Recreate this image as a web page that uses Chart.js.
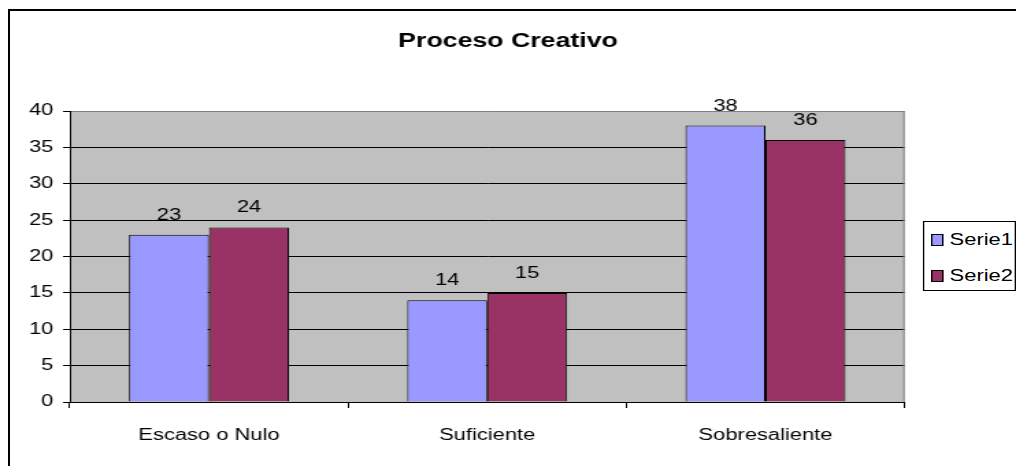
<!DOCTYPE html>
<html>
<head>
<meta charset="utf-8">
<script src="https://cdn.jsdelivr.net/npm/chart.js@4.4.1/dist/chart.umd.min.js"></script>
<style>
    html, body { margin: 0; padding: 0; background: #fff; overflow: hidden; }
    #frame {
        position: absolute; left: 8px; top: 9px;
        width: 1100px; height: 600px;
        border-left: 2px solid #000; border-top: 2px solid #000;
    }
    /* the reference is stretched horizontally, so the whole chart is drawn narrow and scaled */
    #wrap {
        position: absolute; left: 0; top: 0;
        width: 742px; height: 466px;
        transform: scaleX(1.3693); transform-origin: 0 0;
    }
    #legend {
        position: absolute; left: 673.7px; top: 221px;
        width: 66px; height: 68px;
        border: 1px solid #000; background: #fff;
        font-family: "Liberation Sans", Arial, sans-serif; font-size: 16px; color: #000;
    }
    .item { position: absolute; left: 5.8px; height: 18px; line-height: 18px; white-space: nowrap; }
    .box {
        position: absolute; left: 0; top: 3px;
        width: 6.8px; height: 10px; border: 1px solid #000;
    }
    .lbl { position: absolute; left: 13px; top: 0; }
</style>
</head>
<body>
<div id="frame"></div>
<div id="wrap">
    <canvas id="chart" width="742" height="466"></canvas>
    <div id="legend"></div>
</div>
<script>
// Datos del gráfico
const categorias = ['Escaso o Nulo', 'Suficiente', 'Sobresaliente'];
const serie1 = [23, 14, 38];
const serie2 = [24, 15, 36];
const nombresSeries = ['Serie1', 'Serie2'];
const coloresSeries = ['#9999FF', '#993366'];
const titulo = 'Proceso Creativo';

const fuente = '"Liberation Sans", Arial, sans-serif';

// Leyenda en HTML
const legend = document.getElementById('legend');
nombresSeries.forEach((nombre, i) => {
    const item = document.createElement('div');
    item.className = 'item';
    item.style.top = (9 + i * 35.5) + 'px';
    item.innerHTML = '<span class="box" style="background:' + coloresSeries[i] + '"></span>' +
                     '<span class="lbl">' + nombre + '</span>';
    legend.appendChild(item);
});

// Fondo gris del área de trazado
const fondoPlugin = {
    id: 'fondo',
    beforeDraw(chart) {
        const { ctx, chartArea: a } = chart;
        ctx.save();
        ctx.fillStyle = '#C0C0C0';
        ctx.fillRect(a.left, a.top, a.right - a.left, a.bottom - a.top);
        ctx.restore();
    },
    afterDatasetsDraw(chart) {
        const { ctx, chartArea: a } = chart;
        ctx.save();
        ctx.strokeStyle = '#808080';
        ctx.lineWidth = 1;
        ctx.beginPath();
        ctx.moveTo(a.right - 0.5, a.top);
        ctx.lineTo(a.right - 0.5, a.bottom);
        ctx.stroke();
        ctx.restore();
    }
};

// Etiquetas de valores encima de las barras
const etiquetasPlugin = {
    id: 'etiquetas',
    afterDatasetsDraw(chart) {
        const ctx = chart.ctx;
        ctx.save();
        ctx.font = '16px ' + fuente;
        ctx.fillStyle = '#000';
        ctx.textAlign = 'center';
        ctx.textBaseline = 'alphabetic';
        chart.data.datasets.forEach((ds, i) => {
            chart.getDatasetMeta(i).data.forEach((bar, j) => {
                ctx.fillText(String(ds.data[j]), bar.x, bar.y - 15);
            });
        });
        ctx.restore();
    }
};

const chart = new Chart(document.getElementById('chart').getContext('2d'), {
    type: 'bar',
    data: {
        labels: categorias,
        datasets: [
            { label: nombresSeries[0], data: serie1, backgroundColor: coloresSeries[0],
              borderColor: '#000', borderWidth: 1 },
            { label: nombresSeries[1], data: serie2, backgroundColor: coloresSeries[1],
              borderColor: '#000', borderWidth: 1 }
        ]
    },
    options: {
        responsive: false,
        devicePixelRatio: 1,
        animation: false,
        layout: { padding: 0 },
        datasets: { bar: { categoryPercentage: 0.575, barPercentage: 1 } },
        plugins: {
            legend: { display: false },
            tooltip: { enabled: false },
            title: {
                display: true,
                text: titulo,
                color: '#000',
                font: { family: fuente, size: 19.5, weight: 'bold' },
                padding: { top: 30, bottom: 57.6 }
            }
        },
        scales: {
            x: {
                afterFit(scale) { scale.height = 64; },
                grid: {
                    offset: true,
                    drawOnChartArea: false,
                    drawTicks: true,
                    tickLength: 6,
                    color: '#000',
                    tickColor: '#000'
                },
                border: { display: true, color: '#000', width: 1 },
                ticks: {
                    color: '#000',
                    font: { family: fuente, size: 16 },
                    padding: 18,
                    maxRotation: 0
                }
            },
            y: {
                min: 0,
                max: 40,
                afterFit(scale) { scale.width = 51; },
                grid: {
                    drawTicks: true,
                    tickLength: 5,
                    color: (c) => (c.tick && c.tick.value === 40 ? '#808080' : '#000'),
                    tickColor: '#000'
                },
                border: { display: true, color: '#000', width: 1 },
                ticks: {
                    stepSize: 5,
                    color: '#000',
                    font: { family: fuente, size: 16 },
                    padding: 7
                }
            },
            // eje vacío a la derecha: reserva el hueco de la leyenda sin desplazar el título
            hueco: {
                type: 'linear',
                position: 'right',
                afterFit(scale) { scale.width = 81.4; },
                grid: { display: false, drawTicks: false },
                border: { display: false },
                ticks: { display: false }
            }
        }
    },
    plugins: [fondoPlugin, etiquetasPlugin]
});
</script>
</body>
</html>
